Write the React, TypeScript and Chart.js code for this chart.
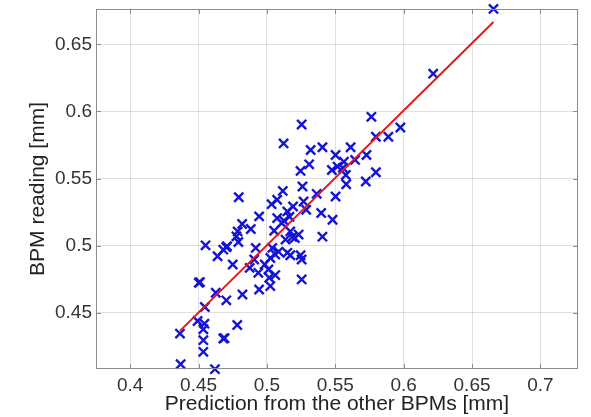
import React, { useEffect, useRef } from "react";
import { Chart, registerables } from "chart.js";

Chart.register(...registerables);

// Prediction from the other BPMs [mm]
const xPred = [
  0.6657, 0.6216, 0.5764, 0.5254, 0.5976, 0.5888, 0.5797, 0.5122, 0.5406, 0.532,
  0.5612, 0.5502, 0.5728, 0.5645, 0.5563, 0.5309, 0.5516, 0.5475, 0.5246, 0.5577,
  0.5797, 0.5723, 0.558, 0.526, 0.5364, 0.5502, 0.4794, 0.5116, 0.5034, 0.5075,
  0.5268, 0.5191, 0.5287, 0.5397, 0.4943, 0.548, 0.4819, 0.5149, 0.5075, 0.5108,
  0.4882, 0.4786, 0.4777, 0.5406, 0.5232, 0.5171, 0.5053, 0.5136, 0.5204, 0.4551,
  0.4791, 0.4703, 0.4681, 0.4918, 0.5039, 0.4639, 0.5149, 0.5246, 0.5061, 0.5171,
  0.5254, 0.4907, 0.5025, 0.475, 0.4874, 0.4984, 0.4937, 0.5011, 0.5061, 0.5017,
  0.5025, 0.5254, 0.4943, 0.4502, 0.4626, 0.4821, 0.4703, 0.4546, 0.4364, 0.4493,
  0.4543, 0.4783, 0.4535, 0.4681, 0.4535, 0.4535, 0.4369, 0.462, 0.451, 0.469,
  0.4708, 0.5125, 0.5165, 0.5085, 0.5185, 0.5555,
];

// BPM reading [mm]
const yRead = [
  0.6765, 0.6282, 0.596, 0.5903, 0.5881, 0.5812, 0.5812, 0.5762, 0.5733, 0.5713,
  0.5733, 0.5676, 0.5676, 0.5639, 0.5626, 0.5606, 0.5589, 0.5564, 0.5557, 0.5527,
  0.5547, 0.5478, 0.5458, 0.5441, 0.5386, 0.5366, 0.5361, 0.5408, 0.5309, 0.5342,
  0.5329, 0.5292, 0.5267, 0.5243, 0.5218, 0.5193, 0.5161, 0.5255, 0.5205, 0.5168,
  0.5124, 0.5106, 0.5069, 0.5067, 0.5082, 0.5106, 0.5111, 0.5045, 0.5057, 0.5002,
  0.5027, 0.4988, 0.497, 0.4983, 0.4983, 0.4921, 0.4946, 0.4928, 0.4933, 0.4928,
  0.4896, 0.4896, 0.4908, 0.4859, 0.4834, 0.4859, 0.4797, 0.4822, 0.478, 0.476,
  0.4698, 0.4748, 0.4673, 0.4723, 0.4649, 0.4636, 0.4592, 0.4542, 0.4344, 0.4438,
  0.4418, 0.4408, 0.4376, 0.4307, 0.4295, 0.4208, 0.4116, 0.4079, 0.4728, 0.431,
  0.4995, 0.5185, 0.5215, 0.4955, 0.5065, 0.558,
];

// Fitted line end points
const fitX = [0.4364, 0.6657];
const fitY = [0.4364, 0.6667];

const xTicks = [0.4, 0.45, 0.5, 0.55, 0.6, 0.65, 0.7];
const yTicks = [0.45, 0.5, 0.55, 0.6, 0.65];

const X_MIN = 0.375;
const X_MAX = 0.7275;
const Y_MIN = 0.408;
const Y_MAX = 0.6765;

const FONT = "'Liberation Sans', Arial, Helvetica, sans-serif";
const BLUE = "rgb(20,20,215)";
const RED = "rgb(232,22,26)";

const framePlugin = {
  id: "matlabFrame",
  afterDraw(chart: any) {
    const { ctx, chartArea } = chart;
    const { left, right, top, bottom } = chartArea;
    const xs = chart.scales.x;
    const ys = chart.scales.y;
    ctx.save();
    ctx.strokeStyle = "#8c8c8c";
    ctx.lineWidth = 1;
    ctx.strokeRect(Math.round(left) + 0.5, Math.round(top) + 0.5, Math.round(right - left) - 1, Math.round(bottom - top) - 1);
    ctx.beginPath();
    const tl = 5;
    xTicks.forEach((v) => {
      const px = Math.round(xs.getPixelForValue(v)) + 0.5;
      ctx.moveTo(px, bottom);
      ctx.lineTo(px, bottom - tl);
      ctx.moveTo(px, top);
      ctx.lineTo(px, top + tl);
    });
    yTicks.forEach((v) => {
      const py = Math.round(ys.getPixelForValue(v)) + 0.5;
      ctx.moveTo(left, py);
      ctx.lineTo(left + tl, py);
      ctx.moveTo(right, py);
      ctx.lineTo(right - tl, py);
    });
    ctx.stroke();
    ctx.restore();
  },
};

export default function App() {
  const ref = useRef<HTMLCanvasElement>(null);

  useEffect(() => {
    if (!ref.current) return;
    const chart = new Chart(ref.current, {
      type: "scatter",
      data: {
        datasets: [
          {
            type: "line",
            label: "fit",
            data: fitX.map((x, i) => ({ x, y: fitY[i] })),
            borderColor: RED,
            borderWidth: 2,
            pointRadius: 0,
            fill: false,
            order: 0,
          } as any,
          {
            type: "scatter",
            label: "BPM",
            data: xPred.map((x, i) => ({ x, y: yRead[i] })),
            pointStyle: "crossRot",
            pointRadius: 6.5,
            pointBorderWidth: 2.4,
            borderColor: BLUE,
            backgroundColor: BLUE,
            clip: false,
            order: 1,
          } as any,
        ],
      },
      options: {
        animation: false,
        responsive: false,
        maintainAspectRatio: false,
        layout: { padding: { left: 0, right: 13, top: 5, bottom: 0 } },
        plugins: {
          legend: { display: false },
          tooltip: { enabled: false },
        },
        scales: {
          x: {
            type: "linear",
            min: X_MIN,
            max: X_MAX,
            afterBuildTicks: (s: any) => {
              s.ticks = xTicks.map((v) => ({ value: v }));
            },
            afterFit: (s: any) => {
              s.height = 48;
              s.paddingLeft = 0;
              s.paddingRight = 0;
            },
            ticks: {
              autoSkip: false,
              maxRotation: 0,
              padding: 5,
              color: "#333333",
              font: { family: FONT, size: 19 },
              callback: (v: any) => String(v),
            },
            grid: { color: "rgba(0,0,0,0.12)", drawTicks: false, lineWidth: 1 },
            border: { display: false },
            title: {
              display: true,
              text: "Prediction from the other BPMs [mm]",
              color: "#222222",
              font: { family: FONT, size: 21 },
              padding: { top: 0, bottom: 0 },
            },
          },
          y: {
            type: "linear",
            min: Y_MIN,
            max: Y_MAX,
            afterBuildTicks: (s: any) => {
              s.ticks = yTicks.map((v) => ({ value: v }));
            },
            afterFit: (s: any) => {
              s.width = 96;
              s.paddingTop = 0;
              s.paddingBottom = 0;
            },
            ticks: {
              autoSkip: false,
              padding: 4,
              color: "#333333",
              font: { family: FONT, size: 19 },
              callback: (v: any) => String(v),
            },
            grid: { color: "rgba(0,0,0,0.12)", drawTicks: false, lineWidth: 1 },
            border: { display: false },
            title: {
              display: true,
              text: "BPM reading [mm]",
              color: "#222222",
              font: { family: FONT, size: 21 },
              padding: { top: 26, bottom: 0 },
            },
          },
        },
      } as any,
      plugins: [framePlugin],
    });
    return () => chart.destroy();
  }, []);

  return (
    <div style={{ position: "fixed", left: 0, top: 0, width: 591, height: 417, background: "#fff" }}>
      <canvas ref={ref} width={591} height={417} style={{ display: "block" }} />
    </div>
  );
}
